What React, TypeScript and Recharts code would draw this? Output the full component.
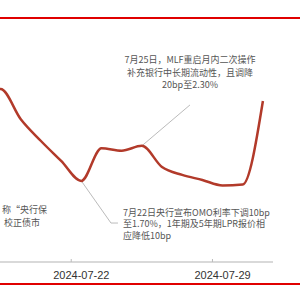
import React from 'react';
import { LineChart, Line, XAxis, YAxis, ReferenceLine } from 'recharts';

// day offsets relative to 2024-07-22, calendar days 7/17 .. 7/31
const dates = [
  '2024-07-17', '2024-07-18', '2024-07-19', '2024-07-20', '2024-07-21',
  '2024-07-22', '2024-07-23', '2024-07-24', '2024-07-25', '2024-07-26',
  '2024-07-27', '2024-07-28', '2024-07-29', '2024-07-30', '2024-07-31',
];
const yields = [
  2.240, 2.243, 2.218, 2.200, 2.1835,
  2.167, 2.194, 2.192, 2.196, 2.1785,
  2.172, 2.1678, 2.1632, 2.164, 2.233,
];
const tickDays = [0, 7];

const annoMlf = ['7月25日，MLF重启月内二次操作', '补充银行中长期流动性，且调降', '20bp至2.30%'];
const annoOmo = ['7月22日央行宣布OMO利率下调10bp', '至1.70%，1年期及5年期LPR报价相', '应降低10bp'];
const annoLeft = ['称“央行保', '校正债市'];

const data = yields.map((v, i) => ({ d: i - 5, date: dates[i], v }));

const X_MIN = -4.03;
const X_MAX = 9.5;
const PLOT_W = 273;
const HALF_DAY = PLOT_W / (X_MAX - X_MIN) / 2;

const TEXT_FONT = '"Noto Sans CJK SC", "Noto Sans", sans-serif';

const DateTick = (props: any) => {
  const { x, y, payload } = props;
  const label = dates[payload.value + 5];
  return (
    <g>
      <line x1={x - HALF_DAY} x2={x - HALF_DAY} y1={y - 3} y2={y} stroke="#bbb" />
      <text x={x} y={y + 17} textAnchor="middle" fontSize={11} fill="#333"
        fontFamily='"Liberation Sans", Arial, sans-serif'>
        {label}
      </text>
    </g>
  );
};

export default function App() {
  return (
    <div style={{ position: 'fixed', left: 0, top: 0, width: 300, height: 300, background: '#fff', overflow: 'hidden' }}>
      <div style={{ position: 'absolute', left: 0, top: 17, width: 300, height: 2, background: '#e00000' }} />
      <div style={{ position: 'absolute', left: 0, top: 283, width: 300, height: 2, background: '#e00000' }} />
      <div style={{ position: 'absolute', left: 0, top: 0 }}>
        <LineChart width={300} height={300} data={data} margin={{ top: 20, right: 27, bottom: 0, left: 0 }}>
          <XAxis
            dataKey="d"
            type="number"
            domain={[X_MIN, X_MAX]}
            allowDataOverflow
            ticks={tickDays}
            tickLine={false}
            tickSize={0}
            tickMargin={0}
            height={38}
            axisLine={{ stroke: '#ccc', strokeWidth: 1.5 }}
            tick={<DateTick />}
          />
          <YAxis hide domain={[2.1, 2.3]} allowDataOverflow />
          <ReferenceLine segment={[{ x: 3, y: 2.196 }, { x: 5.385, y: 2.2298 }]} stroke="#bbb" ifOverflow="visible" />
          <ReferenceLine segment={[{ x: 0, y: 2.167 }, { x: 1.47, y: 2.1322 }]} stroke="#bbb" ifOverflow="visible" />
          <ReferenceLine segment={[{ x: 1.47, y: 2.1322 }, { x: 1.817, y: 2.1322 }]} stroke="#bbb" ifOverflow="visible" />
          <Line
            type="monotone"
            dataKey="v"
            stroke="#b23a2a"
            strokeWidth={2.5}
            dot={false}
            activeDot={false}
            isAnimationActive={false}
          />
        </LineChart>
      </div>
      <svg width={300} height={300} style={{ position: 'absolute', left: 0, top: 0, pointerEvents: 'none' }}>
        <g fontFamily={TEXT_FONT} fontSize={9} fill="#555">
          {annoMlf.map((t, i) => (
            <text key={t} x={190} y={63 + i * 12.5} textAnchor="middle">{t}</text>
          ))}
          {annoOmo.map((t, i) => (
            <text key={t} x={123} y={215.5 + i * 11.5} textAnchor="start">{t}</text>
          ))}
          {annoLeft.map((t, i) => (
            <text key={t} x={i === 0 ? 47 : 40} y={213 + i * 12.5} textAnchor="end">{t}</text>
          ))}
        </g>
      </svg>
    </div>
  );
}
